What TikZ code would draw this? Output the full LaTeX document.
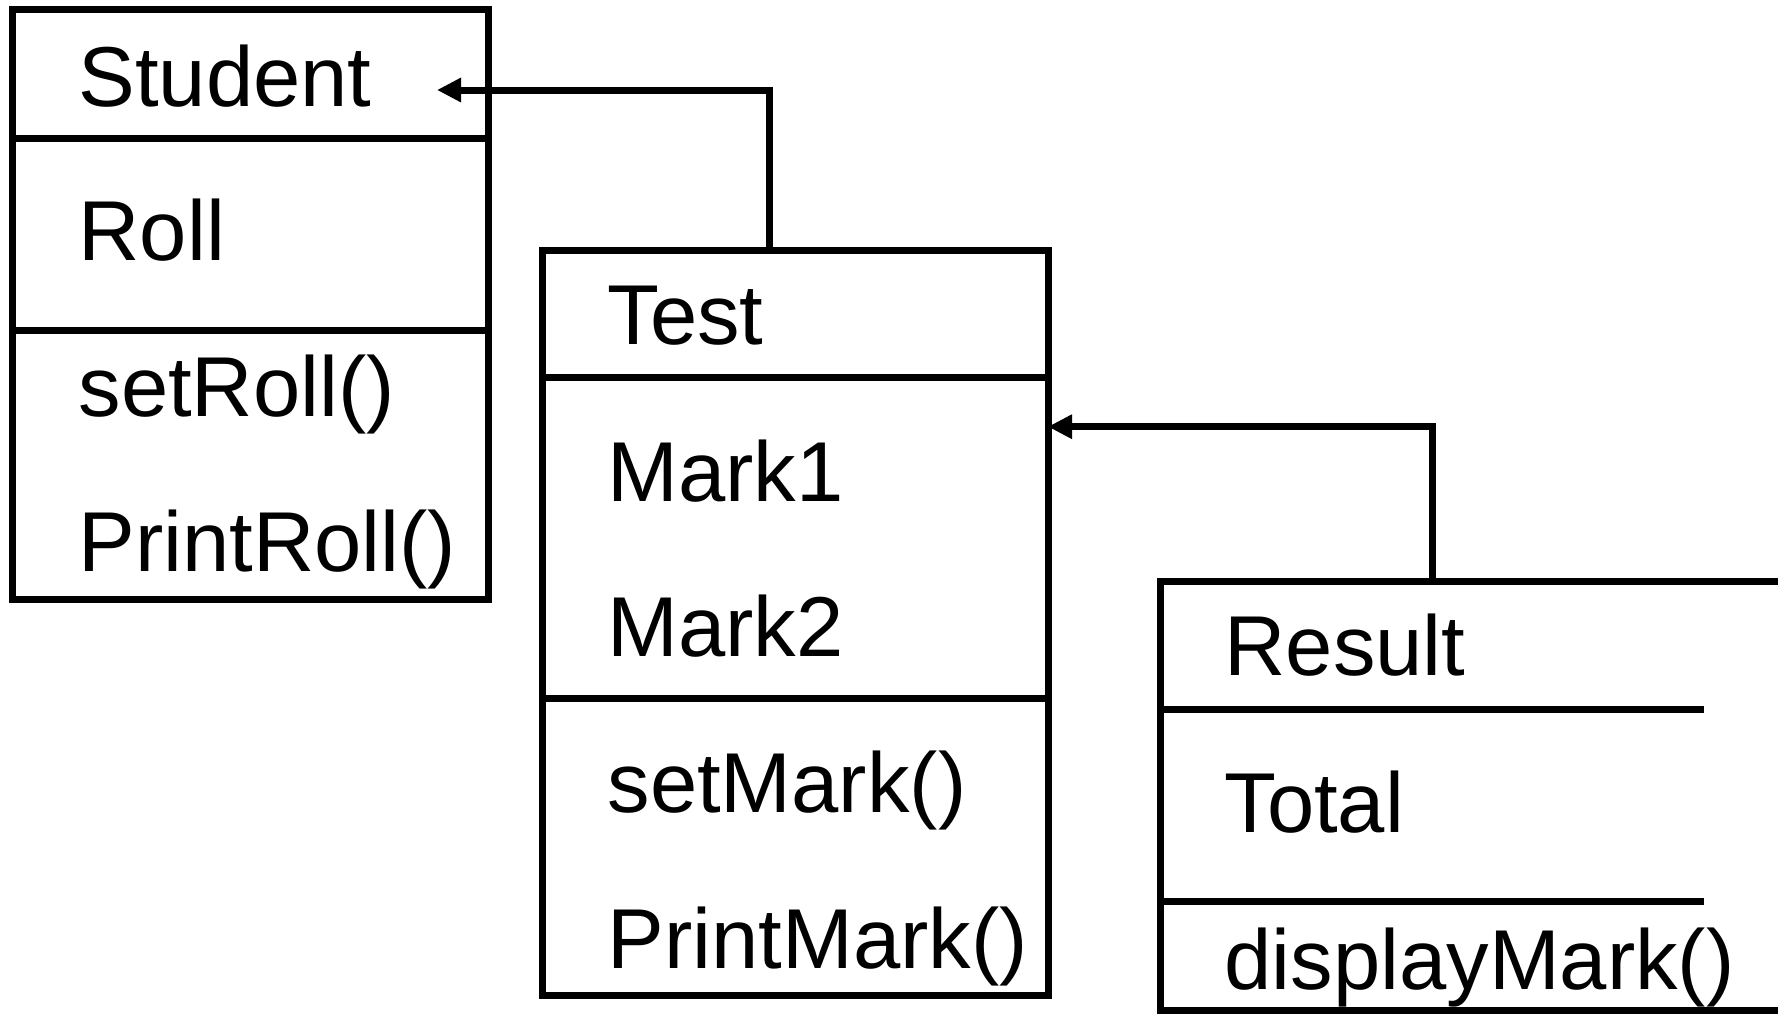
\documentclass[tikz,border=0pt]{standalone}
\usepackage{fontspec}
\setmainfont{Liberation Sans}
\usetikzlibrary{arrows.meta}
\begin{document}
\begin{tikzpicture}[x=1pt,y=-1pt,line width=7pt,
  box/.style={draw,line width=7pt,inner sep=0pt,outer sep=0pt,anchor=north west},
  lbl/.style={anchor=base west,inner sep=0pt,font=\fontsize{85}{100}\selectfont},
  arr/.style={-{Triangle[length=24pt,width=23pt]},line width=7pt}]
\useasboundingbox (0,0) rectangle (1778,1013);
\clip (0,0) rectangle (1778,1013);
% boxes
\node[box,minimum width=476pt,minimum height=589.5pt] (student) at (12,9.5) {};
\node[box,minimum width=506pt,minimum height=745pt] (test) at (542,250) {};
\node[box,minimum width=800pt,minimum height=428.5pt] (result) at (1160.7,581.7) {};
% dividers
\draw (12,138) -- (488,138);
\draw (12,330) -- (488,330);
\draw (542,377.5) -- (1048,377.5);
\draw (542,698) -- (1048,698);
\draw (1160.7,709.6) -- (1704,709.6);
\draw (1160.7,901.8) -- (1704,901.8);
% texts
\node[lbl] (sname) at (75,106) {Student};
\node[lbl] (sroll) at (75,260) {Roll};
\node[lbl] (sset) at (75,416) {setRoll()};
\node[lbl] (sprint) at (75,571) {PrintRoll()};
\node[lbl] (tname) at (604,344) {Test};
\node[lbl] (tm1) at (604,501) {Mark1};
\node[lbl] (tm2) at (604,656) {Mark2};
\node[lbl] (tset) at (604,812) {setMark()};
\node[lbl] (tprint) at (604,968) {PrintMark()};
\node[lbl] (rname) at (1221,675) {Result};
\node[lbl] (rtotal) at (1221,832) {Total};
\node[lbl] (rdisp) at (1221,989) {displayMark()};
% connectors
\coordinate (a1) at (437,90);
\draw[arr] ([xshift=227pt]test.north west) |- (a1);
\draw[arr] ([xshift=271.3pt]result.north west) |- ([yshift=-176.7pt]test.north east);
\end{tikzpicture}
\end{document}
